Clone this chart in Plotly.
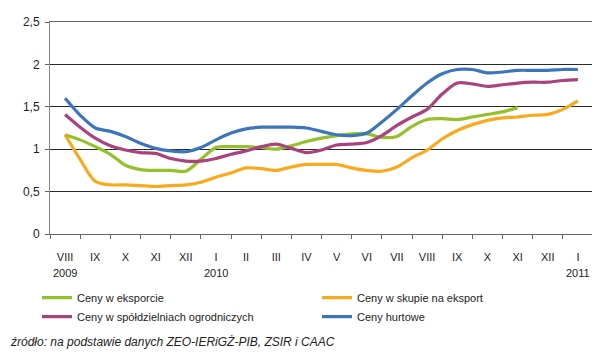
import plotly.graph_objects as go

# category labels (months) and years
months = ["VIII", "IX", "X", "XI", "XII", "I", "II", "III", "IV", "V", "VI",
          "VII", "VIII", "IX", "X", "XI", "XII", "I"]
years = {"2009": 0, "2010": 5, "2011": 17}

# readings every half month (position 0 = VIII 2009)
steps = [k / 2 for k in range(35)]

ceny_eksport = [1.17, 1.11, 1.03, 0.94, 0.81, 0.76, 0.75, 0.75, 0.74, 0.88,
                1.02, 1.03, 1.03, 1.02, 1.00, 1.04, 1.09, 1.13, 1.16, 1.18,
                1.18, 1.14, 1.15, 1.27, 1.35, 1.36, 1.35, 1.38, 1.41, 1.44,
                1.49]
ceny_skup = [1.17, 0.88, 0.62, 0.58, 0.58, 0.57, 0.56, 0.57, 0.58, 0.61,
             0.67, 0.72, 0.78, 0.77, 0.75, 0.79, 0.82, 0.82, 0.82, 0.78,
             0.75, 0.74, 0.79, 0.90, 0.99, 1.12, 1.22, 1.29, 1.34, 1.37,
             1.38, 1.40, 1.41, 1.47, 1.57]
ceny_spold = [1.41, 1.26, 1.13, 1.04, 0.99, 0.96, 0.95, 0.89, 0.86, 0.86,
              0.89, 0.94, 0.98, 1.03, 1.06, 1.01, 0.96, 0.99, 1.05, 1.06,
              1.08, 1.16, 1.28, 1.38, 1.47, 1.65, 1.78, 1.77, 1.74, 1.76,
              1.78, 1.79, 1.79, 1.81, 1.82]
ceny_hurt = [1.60, 1.40, 1.25, 1.21, 1.15, 1.07, 1.01, 0.98, 0.97, 1.02,
             1.11, 1.19, 1.24, 1.26, 1.26, 1.26, 1.25, 1.21, 1.17, 1.16,
             1.19, 1.32, 1.47, 1.63, 1.78, 1.89, 1.94, 1.94, 1.90, 1.91,
             1.93, 1.93, 1.93, 1.94, 1.94]

series = [
    ("Ceny w eksporcie", ceny_eksport, "#94C02A"),
    ("Ceny w skupie na eksport", ceny_skup, "#F9A91E"),
    ("Ceny w spółdzielniach ogrodniczych", ceny_spold, "#A9437E"),
    ("Ceny hurtowe", ceny_hurt, "#3C75BC"),
]

y_ticks = [0, 0.5, 1, 1.5, 2, 2.5]
y_text = ["0", "0,5", "1", "1,5", "2", "2,5"]

FONT = "Liberation Sans"

fig = go.Figure()
for name, vals, col in series:
    fig.add_trace(go.Scatter(
        x=steps[:len(vals)], y=vals, name=name, mode="lines",
        line=dict(color=col, width=3.2, shape="spline", smoothing=0.8),
    ))

annotations = []
for yr, pos in years.items():
    annotations.append(dict(x=pos, y=-0.186, xref="x", yref="paper", text=yr,
                            showarrow=False, font=dict(family=FONT, size=11, color="#222"),
                            xanchor="center", yanchor="middle"))
annotations.append(dict(x=-0.0775, y=-0.509, xref="paper", yref="paper",
                        text="<i>źródło: na podstawie danych ZEO-IERiGŻ-PIB, ZSIR i CAAC</i>",
                        showarrow=False, font=dict(family=FONT, size=12, color="#222"),
                        xanchor="left", yanchor="middle"))

fig.update_layout(
    width=592, height=356,
    margin=dict(l=42, r=7, t=14, b=130, autoexpand=False),
    paper_bgcolor="white", plot_bgcolor="white",
    font=dict(family=FONT, size=11, color="#222"),
    showlegend=True,
    legend=dict(orientation="h", x=-0.024, xref="paper", y=-0.232, yref="paper",
                xanchor="left", yanchor="top", entrywidth=235, entrywidthmode="pixels",
                font=dict(family=FONT, size=11, color="#222"), bgcolor="rgba(0,0,0,0)",
                tracegroupgap=0, itemwidth=30),
    xaxis=dict(range=[-0.5, 17.5], tickvals=list(range(len(months))), ticktext=months,
               ticks="", showgrid=False, showline=True, linecolor="#666", linewidth=1,
               mirror=True, zeroline=False, ticklabelstandoff=13,
               tickfont=dict(family=FONT, size=11, color="#222"),
               minor=dict(ticks="outside", tick0=-0.5, dtick=1, ticklen=4,
                          tickcolor="#666", showgrid=False)),
    yaxis=dict(range=[0, 2.5], tickvals=y_ticks, ticktext=y_text, ticks="outside",
               ticklen=4, tickcolor="#666", showgrid=True, gridcolor="#2a2a2a",
               gridwidth=1, showline=True, linecolor="#888", linewidth=1, mirror=True,
               zeroline=False, ticklabelstandoff=3,
               tickfont=dict(family=FONT, size=12, color="#222")),
    annotations=annotations,
)

fig.write_html("out.html")
